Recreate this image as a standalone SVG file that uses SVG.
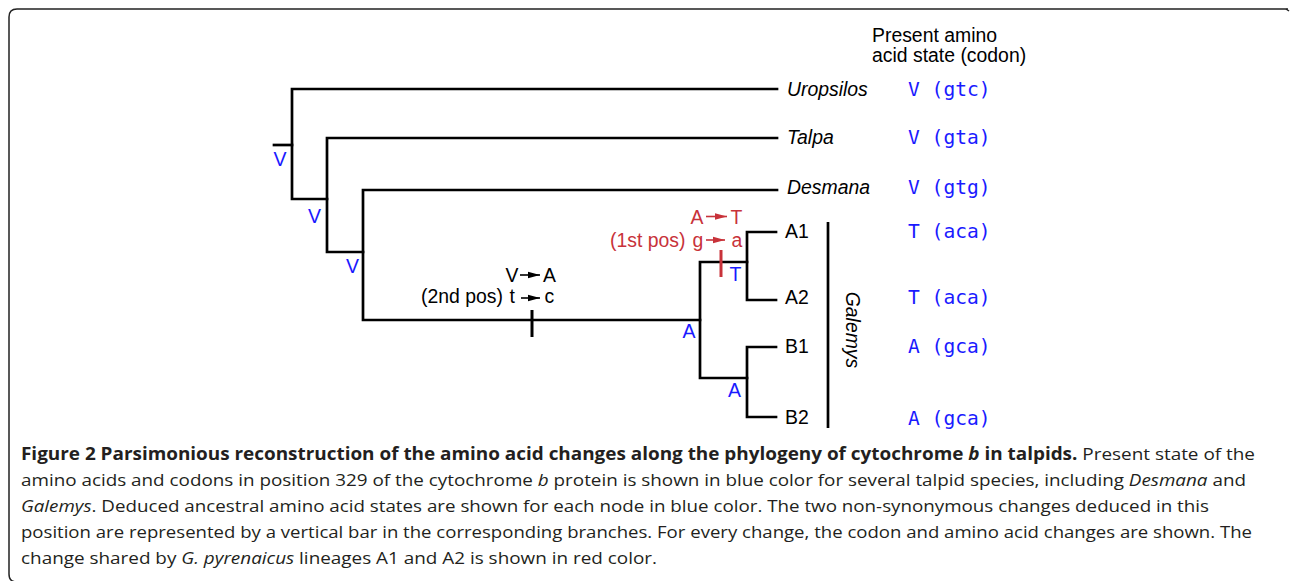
<svg xmlns="http://www.w3.org/2000/svg" width="1290" height="581" viewBox="0 0 1290 581">
<defs>
<style>
.br{stroke:#000;stroke-width:2.7;fill:none;stroke-linecap:square}
.lbl{font-family:"Liberation Sans",Arial,sans-serif;font-size:19.4px;fill:#000}
.it{font-style:italic}
.anc{font-family:"Liberation Sans",Arial,sans-serif;font-size:19.5px;fill:#1a1aff}
.cod{font-family:"DejaVu Sans Mono",monospace;font-size:19.6px;fill:#1a1aff}
.red{font-family:"Liberation Sans",Arial,sans-serif;font-size:19.4px;fill:#c8323a}
.cap{font-family:"Open Sans","Liberation Sans",sans-serif;font-size:17px;fill:#231f20}
.b{font-weight:bold}
</style>
<marker id="ahK" viewBox="0 0 12 8" refX="12" refY="4" markerWidth="12" markerHeight="8" markerUnits="userSpaceOnUse" orient="auto"><path d="M0,0.8 L12,4 L0,7.2 Z" fill="#000"/></marker>
<marker id="ahR" viewBox="0 0 12 8" refX="12" refY="4" markerWidth="12" markerHeight="8" markerUnits="userSpaceOnUse" orient="auto"><path d="M0,0.8 L12,4 L0,7.2 Z" fill="#c8323a"/></marker>
</defs>
<rect width="1290" height="581" fill="#fff"/>
<g id="frame">
<path d="M1288,9 L17,9 Q9,9 9,17 L9,574 Q9,582 17,582" fill="none" stroke="#222" stroke-width="1.5"/>
<line x1="1286" y1="9" x2="1289" y2="11" stroke="#222" stroke-width="1.5"/>
</g>
<g id="connectors">
<path class="br" d="M274,145 H292"/>
<path class="br" d="M292,89 V199 M292,89 H777 M292,199 H327"/>
<path class="br" d="M327,138 V252 M327,138 H777 M327,252 H363"/>
<path class="br" d="M363,190 V320 M363,190 H777 M363,320 H700"/>
<path class="br" d="M700,262 V378 M700,262 H747 M700,378 H747"/>
<path class="br" d="M747,232 V300 M747,232 H776 M747,300 H776"/>
<path class="br" d="M747,347 V417 M747,347 H776 M747,417 H776"/>
<line x1="532" y1="310" x2="532" y2="337" stroke="#000" stroke-width="3"/>
<line x1="721" y1="250" x2="721" y2="277" stroke="#c8323a" stroke-width="3"/>
<line x1="828" y1="222" x2="828" y2="428" stroke="#000" stroke-width="2.7"/>
</g>
<g id="header">
<text class="lbl" x="872" y="42">Present amino</text>
<text class="lbl" x="872" y="62">acid state (codon)</text>
</g>
<g id="node-uropsilos"><text class="lbl it" x="787" y="96">Uropsilos</text><text class="cod" x="908" y="96">V (gtc)</text></g>
<g id="node-talpa"><text class="lbl it" x="787" y="144">Talpa</text><text class="cod" x="908" y="144">V (gta)</text></g>
<g id="node-desmana"><text class="lbl it" x="787" y="194">Desmana</text><text class="cod" x="908" y="194">V (gtg)</text></g>
<g id="node-A1"><text class="lbl" x="785" y="238">A1</text><text class="cod" x="908" y="238">T (aca)</text></g>
<g id="node-A2"><text class="lbl" x="785" y="304">A2</text><text class="cod" x="908" y="304">T (aca)</text></g>
<g id="node-B1"><text class="lbl" x="785" y="353">B1</text><text class="cod" x="908" y="353">A (gca)</text></g>
<g id="node-B2"><text class="lbl" x="785" y="424">B2</text><text class="cod" x="908" y="425">A (gca)</text></g>
<g id="galemys"><text class="lbl it" transform="translate(846,330) rotate(90)" text-anchor="middle">Galemys</text></g>
<g id="ancestral-states">
<text class="anc" x="280" y="166" text-anchor="middle">V</text>
<text class="anc" x="314.5" y="223" text-anchor="middle">V</text>
<text class="anc" x="352.5" y="273" text-anchor="middle">V</text>
<text class="anc" x="689" y="338" text-anchor="middle">A</text>
<text class="anc" x="734.5" y="397" text-anchor="middle">A</text>
<text class="anc" x="735.5" y="281" text-anchor="middle">T</text>
</g>
<g id="change-2nd">
<text class="lbl" x="505.5" y="282">V</text>
<line x1="520" y1="275" x2="540" y2="275" stroke="#000" stroke-width="1.6" marker-end="url(#ahK)"/>
<text class="lbl" x="543" y="282">A</text>
<text class="lbl" x="421" y="303">(2nd pos)</text>
<text class="lbl" x="509.5" y="303">t</text>
<line x1="521" y1="298" x2="540" y2="298" stroke="#000" stroke-width="1.6" marker-end="url(#ahK)"/>
<text class="lbl" x="544.5" y="303">c</text>
</g>
<g id="change-1st">
<text class="red" x="690.5" y="223.5">A</text>
<line x1="706" y1="216.5" x2="727" y2="216.5" stroke="#c8323a" stroke-width="1.6" marker-end="url(#ahR)"/>
<text class="red" x="730.5" y="223.5">T</text>
<text class="red" x="610" y="247">(1st pos)</text>
<text class="red" x="692.5" y="247">g</text>
<line x1="706" y1="240" x2="725" y2="240" stroke="#c8323a" stroke-width="1.6" marker-end="url(#ahR)"/>
<text class="red" x="731.5" y="247">a</text>
</g>
<g id="caption">
<text class="cap" x="21" y="460" textLength="1234" lengthAdjust="spacingAndGlyphs"><tspan class="b">Figure 2 Parsimonious reconstruction of the amino acid changes along the phylogeny of cytochrome </tspan><tspan class="b it">b</tspan><tspan class="b"> in talpids.</tspan> Present state of the</text>
<text class="cap" x="21" y="486" textLength="1225" lengthAdjust="spacingAndGlyphs">amino acids and codons in position 329 of the cytochrome <tspan class="it">b</tspan> protein is shown in blue color for several talpid species, including <tspan class="it">Desmana</tspan> and</text>
<text class="cap" x="21" y="512" textLength="1188" lengthAdjust="spacingAndGlyphs"><tspan class="it">Galemys</tspan>. Deduced ancestral amino acid states are shown for each node in blue color. The two non-synonymous changes deduced in this</text>
<text class="cap" x="21" y="538" textLength="1231" lengthAdjust="spacingAndGlyphs">position are represented by a vertical bar in the corresponding branches. For every change, the codon and amino acid changes are shown. The</text>
<text class="cap" x="21" y="564" textLength="636" lengthAdjust="spacingAndGlyphs">change shared by <tspan class="it">G. pyrenaicus</tspan> lineages A1 and A2 is shown in red color.</text>
</g>
</svg>
